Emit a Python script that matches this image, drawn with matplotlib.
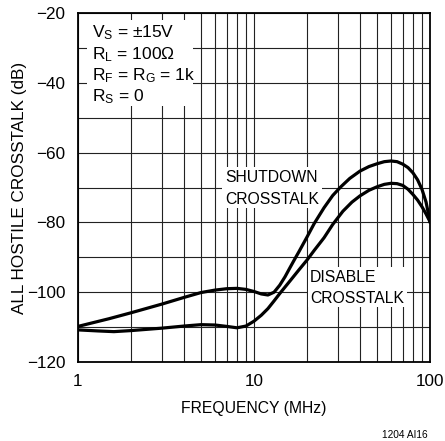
import matplotlib
matplotlib.use("Agg")
import matplotlib.pyplot as plt
from matplotlib.patches import Rectangle
from matplotlib.ticker import FixedLocator, NullFormatter

# ---- data ----
freq_shutdown = [1, 1.5, 2, 3, 4, 5, 6, 7, 8, 9, 10, 11, 12, 13, 14, 15, 16, 17, 18,
                 20, 22, 25, 28, 31, 35, 40, 45, 50, 55, 60, 65, 70, 75, 80, 85, 90, 95, 100]
db_shutdown = [-109.8, -107.6, -105.9, -103.4, -101.5, -100.1, -99.4, -99.0, -98.9, -99.2,
               -99.8, -100.5, -100.8, -100.0, -98.0, -95.6, -93.0, -90.6, -88.4,
               -84.2, -80.3, -75.8, -72.3, -69.9, -67.4, -65.3, -64.0, -63.2, -62.6, -62.4,
               -62.6, -63.3, -64.3, -65.8, -67.8, -70.5, -74.2, -79.8]

freq_disable = [1, 1.3, 1.6, 2, 3, 4, 5, 6, 7, 8, 9, 10, 11, 12, 13, 14, 16, 18, 20, 22,
                25, 28, 32, 36, 40, 45, 50, 55, 60, 65, 70, 75, 80, 85, 90, 95, 100]
db_disable = [-110.8, -111.1, -111.3, -111.0, -110.3, -109.7, -109.3, -109.4, -109.8, -110.2,
              -109.7, -108.3, -106.6, -104.7, -102.5, -100.4, -96.8, -93.6, -90.8, -88.0,
              -84.4, -80.6, -76.8, -74.2, -72.4, -70.8, -69.8, -69.1, -68.8, -68.9,
              -69.4, -70.5, -72.0, -73.6, -75.5, -77.6, -79.8]

x_ticks = [1, 10, 100]
x_ticklabels = ["1", "10", "100"]
y_ticks = [-120, -100, -80, -60, -40, -20]
y_ticklabels = ["\u2212120", "\u2212100", "\u221280", "\u221260", "\u221240", "\u221220"]
conditions = ["V$_{\\mathrm{S}}$ = \u00b115V", "R$_{\\mathrm{L}}$ = 100\u03a9",
              "R$_{\\mathrm{F}}$ = R$_{\\mathrm{G}}$ = 1k", "R$_{\\mathrm{S}}$ = 0"]
shutdown_label = ["SHUTDOWN", "CROSSTALK"]
disable_label = ["DISABLE", "CROSSTALK"]

plt.rcParams["font.family"] = ["Liberation Sans", "DejaVu Sans"]
plt.rcParams["mathtext.fontset"] = "custom"
plt.rcParams["mathtext.rm"] = "Liberation Sans"
plt.rcParams["mathtext.it"] = "Liberation Sans:italic"
plt.rcParams["mathtext.bf"] = "Liberation Sans:bold"

W, H = 445, 441
fig = plt.figure(figsize=(W / 100, H / 100), dpi=100)
L, R, T, B = 78, 430, 13, 362
ax = fig.add_axes([L / W, 1 - B / H, (R - L) / W, (B - T) / H])


def fx(px):
    return px / W


def fy(py):
    return 1 - py / H


ax.set_xscale("log")
ax.set_xlim(1, 100)
ax.set_ylim(-120, -20)
ax.xaxis.set_major_locator(FixedLocator(x_ticks))
ax.set_xticklabels(x_ticklabels)
minor_x = [m * d for d in (1, 10) for m in range(2, 10)]
ax.xaxis.set_minor_locator(FixedLocator(minor_x))
ax.xaxis.set_minor_formatter(NullFormatter())
ax.set_yticks(y_ticks)
ax.set_yticklabels(y_ticklabels)
ax.yaxis.set_minor_locator(FixedLocator(list(range(-110, -20, 20))))
ax.tick_params(which="both", length=0, labelsize=12.3, colors="black")
ax.tick_params(axis="y", pad=9)
ax.tick_params(axis="x", pad=9)
ax.grid(which="both", color="#222222", linewidth=0.8)
for s in ax.spines.values():
    s.set_linewidth(1.3)
    s.set_color("black")

ax.plot(freq_shutdown, db_shutdown, color="black", lw=2.3, zorder=4)
ax.plot(freq_disable, db_disable, color="black", lw=2.3, zorder=4)

ax.set_xlabel("FREQUENCY (MHz)", fontsize=11.3, labelpad=8)
ax.set_ylabel("ALL HOSTILE CROSSTALK (dB)", fontsize=12.3, labelpad=0)

# white backgrounds covering grid
for (x0, y0, x1, y1) in [(87, 20, 193, 106), (222, 167, 322, 208), (308, 267, 407, 307)]:
    ax.add_patch(Rectangle((fx(x0), fy(y1)), fx(x1) - fx(x0), fy(y0) - fy(y1),
                           transform=fig.transFigure, facecolor="white",
                           edgecolor="none", zorder=2.5))

for i, line in enumerate(conditions):
    fig.text(fx(92), fy(33 + 21.2 * i), line, fontsize=12.5, ha="left", va="center",
             zorder=5)

for i, line in enumerate(shutdown_label):
    fig.text(fx(225), fy(178 + 21 * i), line, fontsize=11.3,
             ha="left", va="center", zorder=5)
for i, line in enumerate(disable_label):
    fig.text(fx(310), fy(277.5 + 21 * i), line, fontsize=11.3,
             ha="left", va="center", zorder=5)

fig.text(fx(428), fy(435), "1204 AI16", fontsize=7.3, ha="right", va="center")

fig.savefig("out.png", dpi=100)
